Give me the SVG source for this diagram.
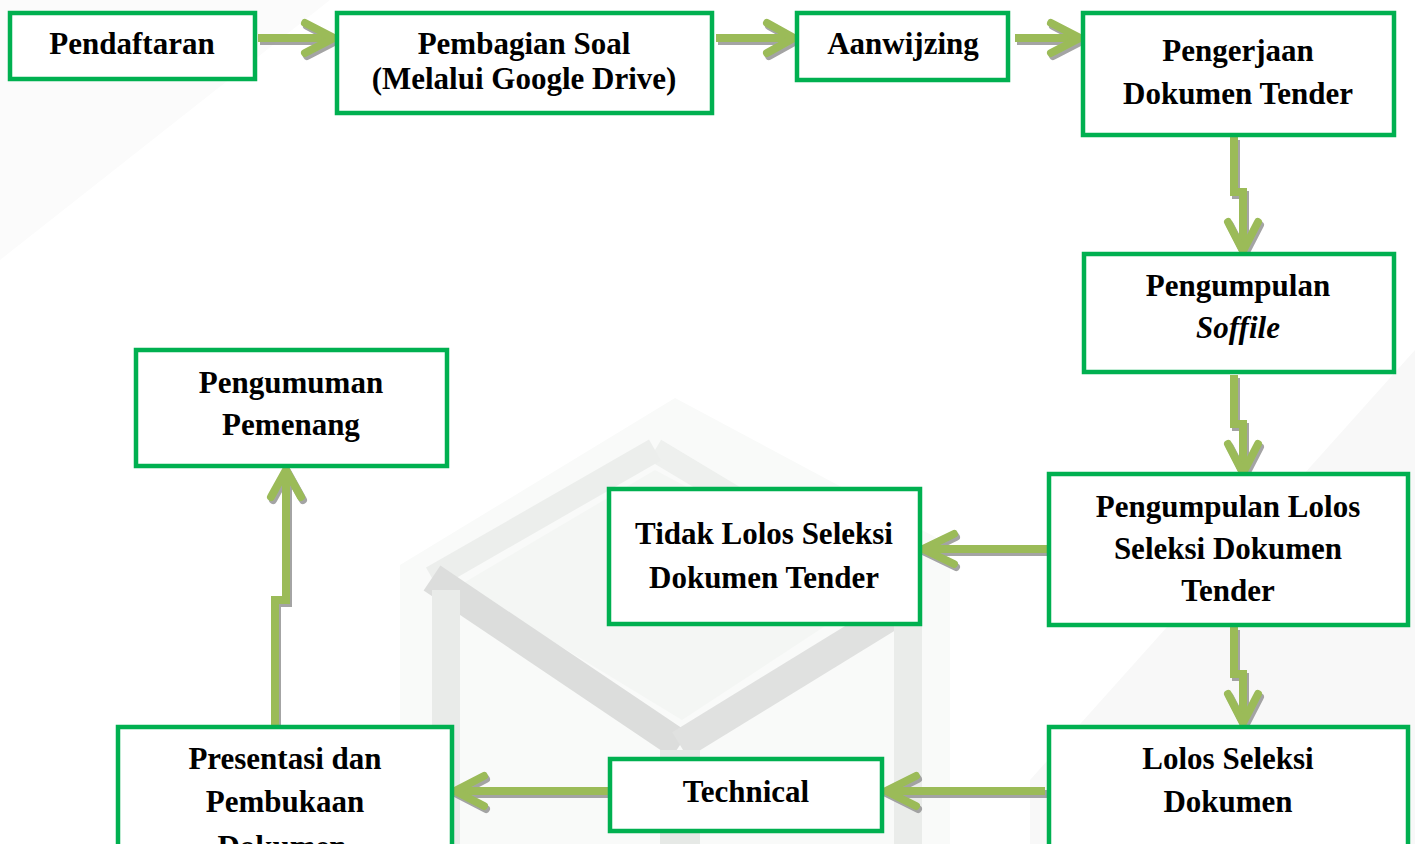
<svg xmlns="http://www.w3.org/2000/svg" width="1415" height="844" viewBox="0 0 1415 844">
<style>
.box{fill:#fff;stroke:#00B050;stroke-width:4.5}
.t{font-family:"Liberation Serif","Times New Roman",serif;font-weight:bold;font-size:31px;fill:#000;text-anchor:middle}
.it{font-style:italic}
.shaft{fill:none;stroke:#9BBB59;stroke-width:8;stroke-linejoin:miter;stroke-linecap:butt}
.head{fill:none;stroke:#9BBB59;stroke-width:8;stroke-linejoin:miter;stroke-linecap:round}
</style>
<defs>
<filter id="shadow" x="-20%" y="-20%" width="140%" height="140%">
<feDropShadow dx="2" dy="3" stdDeviation="0.6" flood-color="#9a9a9a" flood-opacity="0.9"/>
</filter>
</defs>
<rect width="1415" height="844" fill="#fff"/>
<g id="watermark">
<polygon points="0,0 330,0 0,260" fill="#fbfbfb"/>
<polygon points="1415,350 1415,844 1030,844 1030,780" fill="#f8f8f8"/>
<polygon points="400,565 675,398 950,545 950,844 400,844" fill="#f9faf9"/>
<polygon points="460,585 655,470 880,590 682,720" fill="#f4f6f4"/>
<line x1="655" y1="450" x2="905" y2="600" stroke="#eef0ee" stroke-width="24"/>
<line x1="432" y1="578" x2="655" y2="450" stroke="#eceeec" stroke-width="24"/>
<line x1="432" y1="578" x2="680" y2="745" stroke="#dcdddc" stroke-width="30"/>
<line x1="680" y1="745" x2="908" y2="605" stroke="#e0e1e0" stroke-width="30"/>
<line x1="446" y1="590" x2="446" y2="844" stroke="#e9ebe9" stroke-width="28"/>
<line x1="680" y1="750" x2="680" y2="844" stroke="#e6e9e6" stroke-width="40"/>
<line x1="908" y1="610" x2="908" y2="844" stroke="#eaecea" stroke-width="28"/>
</g>
<g id="connectors" filter="url(#shadow)">
<path class="shaft" d="M258,38 H331"/><path class="head" d="M305,23 L334,38 L305,53"/>
<path class="shaft" d="M716,38 H791"/><path class="head" d="M767,23 L794,38 L767,53"/>
<path class="shaft" d="M1015,38 H1077"/><path class="head" d="M1051,23 L1080,38 L1051,53"/>
<path class="shaft" d="M1234,137 V192 H1243 V248"/><path class="head" d="M1228,222 L1243,251 L1258,222"/>
<path class="shaft" d="M1234,375 V424 H1243 V470"/><path class="head" d="M1228,444 L1243,473 L1258,444"/>
<path class="shaft" d="M1047,549 H926"/><path class="head" d="M954,534 L923,549 L954,564"/>
<path class="shaft" d="M1234,627 V674 H1243 V720"/><path class="head" d="M1228,694 L1243,723 L1258,694"/>
<path class="shaft" d="M1045,791 H889"/><path class="head" d="M916,776 L886,791 L916,806"/>
<path class="shaft" d="M608,791 H458"/><path class="head" d="M484,776 L455,791 L484,806"/>
<path class="shaft" d="M275,726 V600 H286 V474"/><path class="head" d="M271,497 L286,470 L301,497"/>
</g>
<g id="n1"><rect class="box" x="10" y="13" width="245" height="66"/><text class="t" x="132" y="54">Pendaftaran</text></g>
<g id="n2"><rect class="box" x="337" y="13" width="375" height="100"/><text class="t" x="524" y="54">Pembagian Soal</text><text class="t" x="524" y="89">(Melalui Google Drive)</text></g>
<g id="n3"><rect class="box" x="797" y="13" width="211" height="67"/><text class="t" x="903" y="54">Aanwijzing</text></g>
<g id="n4"><rect class="box" x="1083" y="13" width="311" height="122"/><text class="t" x="1238" y="61">Pengerjaan</text><text class="t" x="1238" y="104">Dokumen Tender</text></g>
<g id="n5"><rect class="box" x="1084" y="254" width="310" height="118"/><text class="t" x="1238" y="296">Pengumpulan</text><text class="t it" x="1238" y="338">Soffile</text></g>
<g id="n6"><rect class="box" x="1049" y="474" width="359" height="151"/><text class="t" x="1228" y="517">Pengumpulan Lolos</text><text class="t" x="1228" y="559">Seleksi Dokumen</text><text class="t" x="1228" y="601">Tender</text></g>
<g id="n7"><rect class="box" x="609" y="489" width="311" height="135"/><text class="t" x="764" y="544">Tidak Lolos Seleksi</text><text class="t" x="764" y="588">Dokumen Tender</text></g>
<g id="n8"><rect class="box" x="136" y="350" width="311" height="116"/><text class="t" x="291" y="393">Pengumuman</text><text class="t" x="291" y="435">Pemenang</text></g>
<g id="n9"><rect class="box" x="118" y="727" width="334" height="130"/><text class="t" x="285" y="769">Presentasi dan</text><text class="t" x="285" y="812">Pembukaan</text><text class="t" x="282" y="857">Dokumen</text></g>
<g id="n10"><rect class="box" x="610" y="759" width="272" height="72"/><text class="t" x="746" y="802">Technical</text></g>
<g id="n11"><rect class="box" x="1049" y="727" width="359" height="130"/><text class="t" x="1228" y="769">Lolos Seleksi</text><text class="t" x="1228" y="812">Dokumen</text></g>
</svg>
